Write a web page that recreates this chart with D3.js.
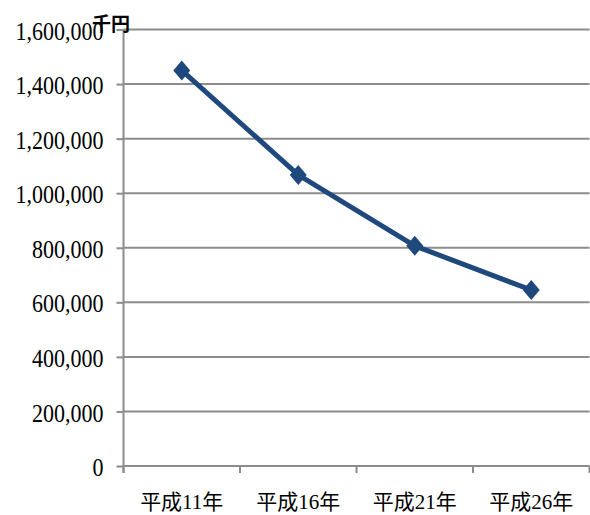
<!DOCTYPE html>
<html>
<head>
<meta charset="utf-8">
<script src="https://cdn.jsdelivr.net/npm/d3@7"></script>
<style>
  html, body { margin: 0; padding: 0; background: #fff; }
  svg { display: block; }
  .num { font-family: "Liberation Serif", "Noto Sans CJK JP", serif; }
</style>
</head>
<body>
<svg id="chart" width="590" height="515"></svg>
<script>
// 年次別の金額（千円）
const categories = ["平成11年", "平成16年", "平成21年", "平成26年"];
const values = [1450000, 1067000, 807000, 645000];
const yTicks = [0, 200000, 400000, 600000, 800000, 1000000, 1200000, 1400000, 1600000];
const unitLabel = "千円";

const svg = d3.select("#chart");
const plotLeft = 123.5, plotRight = 589.5, plotTop = 29.5, plotBottom = 466;

const x = d3.scaleBand().domain(categories).range([plotLeft, plotRight]).padding(0);
const y = d3.scaleLinear().domain([0, 1600000]).range([plotBottom, plotTop]);

const gridColor = "#8c8c8c";
const lineColor = "#1f497d";

// horizontal gridlines
svg.append("g")
  .selectAll("line")
  .data(yTicks.filter(d => d > 0))
  .join("line")
  .attr("x1", plotLeft).attr("x2", plotRight)
  .attr("y1", d => y(d)).attr("y2", d => y(d))
  .attr("stroke", gridColor).attr("stroke-width", 2);

// y axis
const yAxis = svg.append("g")
  .attr("transform", `translate(${plotLeft},0)`)
  .call(d3.axisLeft(y).tickValues(yTicks).tickSize(7).tickPadding(13)
    .tickFormat(d3.format(",")));
yAxis.select(".domain").attr("stroke", gridColor).attr("stroke-width", 2)
  .attr("d", `M0,${plotTop}V${plotBottom + 7}`);
yAxis.selectAll(".tick line").attr("stroke", gridColor).attr("stroke-width", 2);
yAxis.selectAll(".tick text")
  .attr("class", "num")
  .attr("font-size", 22)
  .attr("fill", "#000")
  .attr("dy", null)
  .attr("dominant-baseline", "central")
  .attr("transform", "translate(0,1) scale(1,1.18)");

// x axis baseline and category boundary ticks
const xAxis = svg.append("g");
xAxis.append("line")
  .attr("x1", plotLeft).attr("x2", plotRight)
  .attr("y1", plotBottom).attr("y2", plotBottom)
  .attr("stroke", gridColor).attr("stroke-width", 2);
const boundaries = categories.map(c => x(c)).concat([x(categories[categories.length - 1]) + x.bandwidth()]);
xAxis.selectAll("line.bt")
  .data(boundaries)
  .join("line")
  .attr("class", "bt")
  .attr("x1", d => d).attr("x2", d => d)
  .attr("y1", plotBottom).attr("y2", plotBottom + 7)
  .attr("stroke", gridColor).attr("stroke-width", 2);
xAxis.selectAll("text")
  .data(categories)
  .join("text")
  .attr("class", "num")
  .attr("x", d => x(d) + x.bandwidth() / 2)
  .attr("y", 509)
  .attr("text-anchor", "middle")
  .attr("font-size", 21)
  .attr("fill", "#000")
  .text(d => d);

// unit label
svg.append("text")
  .attr("x", 111).attr("y", 31)
  .attr("text-anchor", "middle")
  .attr("font-family", "'Noto Sans CJK JP', sans-serif")
  .attr("font-weight", 700)
  .attr("font-size", 19)
  .attr("fill", "#000")
  .text(unitLabel);

// data line
const pts = categories.map((c, i) => [x(c) + x.bandwidth() / 2, y(values[i])]);
svg.append("path")
  .attr("d", d3.line()(pts))
  .attr("fill", "none")
  .attr("stroke", lineColor)
  .attr("stroke-width", 5)
  .attr("stroke-linejoin", "round");

// diamond markers
svg.append("g")
  .selectAll("path")
  .data(pts)
  .join("path")
  .attr("transform", d => `translate(${d[0]},${d[1]})`)
  .attr("d", "M0,-10L8.5,0L0,10L-8.5,0Z")
  .attr("fill", lineColor);
</script>
</body>
</html>
